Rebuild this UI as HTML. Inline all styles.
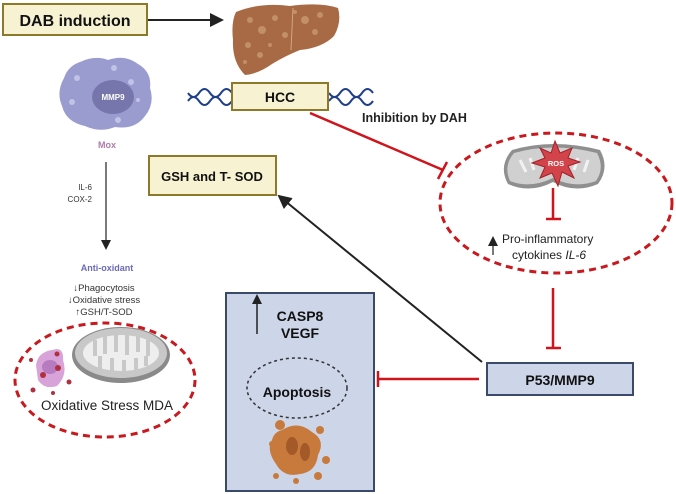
<!DOCTYPE html>
<html><head><meta charset="utf-8"><style>
html,body{margin:0;padding:0;background:#fff;width:676px;height:494px;overflow:hidden}
svg{display:block}
text{font-family:"Liberation Sans",sans-serif}
</style></head><body>
<svg width="676" height="494" viewBox="0 0 676 494" xmlns="http://www.w3.org/2000/svg">
<defs>
<marker id="ah" markerWidth="10" markerHeight="10" refX="8" refY="5" orient="auto" markerUnits="userSpaceOnUse"><path d="M0,0 L10,5 L0,10 z" fill="#222"/></marker>
<marker id="ah2" markerWidth="14" markerHeight="14" refX="12" refY="7" orient="auto" markerUnits="userSpaceOnUse"><path d="M0,0 L14,7 L0,14 z" fill="#222"/></marker>
</defs>

<rect x="3" y="4" width="144" height="31" fill="#f6f2d2" stroke="#8c7a2a" stroke-width="2"/>
<text x="75" y="26" font-size="16" font-weight="bold" text-anchor="middle" fill="#111">DAB induction</text>
<line x1="148" y1="20" x2="222" y2="20" stroke="#222" stroke-width="2" marker-end="url(#ah2)"/>

<!-- liver -->
<path d="M236,12 Q260,2 290,6 Q320,2 338,8 Q342,22 334,36 Q322,48 300,50 Q285,56 272,64 Q258,74 245,75 Q232,62 233,40 Q231,22 236,12z" fill="#a86a45"/>
<g fill="#c99a6e" opacity="0.8">
<circle cx="250" cy="20" r="3"/><circle cx="262" cy="30" r="4"/><circle cx="275" cy="18" r="3"/><circle cx="248" cy="45" r="3"/><circle cx="285" cy="35" r="3"/><circle cx="305" cy="20" r="4"/><circle cx="320" cy="15" r="3"/><circle cx="315" cy="32" r="3"/><circle cx="260" cy="55" r="3"/><circle cx="295" cy="12" r="2"/><circle cx="270" cy="45" r="2"/><circle cx="245" cy="62" r="2"/>
</g>
<line x1="293" y1="8" x2="291" y2="50" stroke="#d4a67a" stroke-width="1"/>

<g fill="none" stroke="#1f3f8a" stroke-width="2">
<path d="M188,93 q5.5,8 11,0 t11,0 t11,0 t11,0"/><path d="M188,101 q5.5,-8 11,0 t11,0 t11,0 t11,0"/>
<path d="M329,93 q5.5,8 11,0 t11,0 t11,0 t11,0"/><path d="M329,101 q5.5,-8 11,0 t11,0 t11,0 t11,0"/>
</g>
<rect x="232" y="83" width="96" height="27" fill="#f6f2d2" stroke="#8c7a2a" stroke-width="2"/>
<text x="280" y="102" font-size="14" font-weight="bold" text-anchor="middle" fill="#111">HCC</text>

<!-- Mox -->
<path d="M80,62 Q95,55 108,60 Q125,54 138,64 Q152,72 150,88 Q155,104 145,116 Q135,130 115,127 Q100,133 85,126 Q66,122 62,106 Q56,92 64,78 Q68,66 80,62z" fill="#9a9cd0"/>
<g fill="#c0c2e6"><circle cx="77" cy="78" r="3"/><circle cx="114" cy="68" r="3"/><circle cx="131" cy="82" r="3"/><circle cx="72" cy="102" r="3"/><circle cx="118" cy="120" r="3"/><circle cx="138" cy="100" r="2"/></g>
<ellipse cx="113" cy="97" rx="21" ry="17" fill="#7676ac"/>
<text x="113" y="100" font-size="8" font-weight="bold" text-anchor="middle" fill="#fff">MMP9</text>
<text x="107" y="148" font-size="9" font-weight="bold" text-anchor="middle" fill="#b07ca8">Mox</text>

<line x1="106" y1="162" x2="106" y2="248" stroke="#222" stroke-width="1.2" marker-end="url(#ah)"/>
<text x="92" y="190" font-size="8" text-anchor="end" fill="#333">IL-6</text>
<text x="92" y="202" font-size="8" text-anchor="end" fill="#333">COX-2</text>

<text x="107" y="271" font-size="9" font-weight="bold" text-anchor="middle" fill="#6a6ab8">Anti-oxidant</text>
<text x="104" y="291" font-size="9.5" text-anchor="middle" fill="#333">↓Phagocytosis</text>
<text x="104" y="303" font-size="9.5" text-anchor="middle" fill="#333">↓Oxidative stress</text>
<text x="104" y="315" font-size="9.5" text-anchor="middle" fill="#333">↑GSH/T-SOD</text>

<!-- left ellipse -->
<ellipse cx="105" cy="380" rx="90" ry="57" fill="none" stroke="#c8191e" stroke-width="3" stroke-dasharray="7,5"/>
<ellipse cx="121" cy="355" rx="49" ry="28" fill="#8a8a8a"/>
<ellipse cx="121" cy="353" rx="46" ry="25" fill="#c8c8c8"/>
<ellipse cx="121" cy="353" rx="38" ry="18" fill="#eee"/>
<g stroke="#c8c8c8" stroke-width="4">
<line x1="95" y1="340" x2="95" y2="356"/><line x1="105" y1="336" x2="105" y2="354"/><line x1="116" y1="335" x2="116" y2="352"/><line x1="127" y1="335" x2="127" y2="355"/><line x1="138" y1="336" x2="138" y2="352"/><line x1="148" y1="340" x2="148" y2="356"/><line x1="100" y1="369" x2="100" y2="356"/><line x1="112" y1="371" x2="112" y2="358"/><line x1="124" y1="371" x2="124" y2="360"/><line x1="136" y1="370" x2="136" y2="358"/><line x1="146" y1="366" x2="146" y2="356"/>
</g>
<path d="M36,365 Q38,352 52,350 Q64,346 63,360 Q68,375 57,386 Q44,390 38,380z" fill="#d7a3d8"/>
<ellipse cx="50" cy="367" rx="8" ry="7" fill="#b77bc0"/>
<g fill="#b03040"><circle cx="43" cy="375" r="3"/><circle cx="58" cy="368" r="3"/><circle cx="57" cy="354" r="2.5"/><circle cx="69" cy="382" r="2.5"/><circle cx="33" cy="390" r="2.5"/><circle cx="53" cy="393" r="2"/><circle cx="31" cy="360" r="2"/></g>
<text x="107" y="410" font-size="13.5" text-anchor="middle" fill="#222">Oxidative Stress MDA</text>

<rect x="149" y="156" width="127" height="39" fill="#f6f2d2" stroke="#8c7a2a" stroke-width="2"/>
<text x="212" y="181" font-size="13" font-weight="bold" text-anchor="middle" fill="#111">GSH and T- SOD</text>

<line x1="310" y1="113" x2="443" y2="170" stroke="#d0141c" stroke-width="2.5"/>
<line x1="438" y1="179" x2="447" y2="162" stroke="#d0141c" stroke-width="2.5"/>
<text x="362" y="122" font-size="12.5" font-weight="bold" fill="#222">Inhibition by DAH</text>

<!-- right ellipse -->
<ellipse cx="556" cy="203" rx="116" ry="70" fill="none" stroke="#c8191e" stroke-width="3" stroke-dasharray="7,5"/>
<path d="M512,150 Q553,138 600,150 Q610,168 598,184 Q575,194 553,182 Q530,194 508,184 Q498,166 512,150z" fill="#8f8f8f"/>
<path d="M514,153 Q553,142 597,153 Q605,168 596,181 Q575,189 553,178 Q530,189 510,181 Q503,166 514,153z" fill="#d0d0d0"/>
<g stroke="#f2f2f2" stroke-width="3"><line x1="520" y1="160" x2="526" y2="172"/><line x1="530" y1="158" x2="534" y2="170"/><line x1="578" y1="158" x2="574" y2="170"/><line x1="588" y1="160" x2="584" y2="172"/></g>
<polygon points="555,141 560,153 572,148 568,158 580,162 568,166 574,178 562,172 558,186 552,173 540,178 545,167 532,163 545,158 540,148 551,153" fill="#d3434a" stroke="#a0222a" stroke-width="1"/>
<text x="556" y="166" font-size="7.5" font-weight="bold" text-anchor="middle" fill="#fff">ROS</text>
<line x1="553" y1="188" x2="553" y2="219" stroke="#d0141c" stroke-width="2.5"/>
<line x1="546" y1="219" x2="561" y2="219" stroke="#d0141c" stroke-width="2.5"/>
<line x1="493" y1="255" x2="493" y2="238" stroke="#222" stroke-width="1.2" marker-end="url(#ah)"/>
<text x="502" y="243" font-size="12" fill="#222">Pro-inflammatory</text>
<text x="512" y="259" font-size="12" fill="#222">cytokines <tspan font-style="italic">IL-6</tspan></text>

<line x1="553" y1="288" x2="553" y2="348" stroke="#d0141c" stroke-width="2.5"/>
<line x1="546" y1="348" x2="561" y2="348" stroke="#d0141c" stroke-width="2.5"/>

<rect x="487" y="363" width="146" height="32" fill="#cdd5e8" stroke="#3b4a6b" stroke-width="2"/>
<text x="560" y="385" font-size="14" font-weight="bold" text-anchor="middle" fill="#111">P53/MMP9</text>
<line x1="479" y1="379" x2="378" y2="379" stroke="#d0141c" stroke-width="2.5"/>
<line x1="378" y1="371" x2="378" y2="387" stroke="#d0141c" stroke-width="2.5"/>

<line x1="482" y1="362" x2="279" y2="196" stroke="#222" stroke-width="2" marker-end="url(#ah2)"/>

<rect x="226" y="293" width="148" height="198" fill="#cdd5e8" stroke="#3b4a6b" stroke-width="2"/>
<line x1="257" y1="334" x2="257" y2="296" stroke="#222" stroke-width="1.5" marker-end="url(#ah)"/>
<text x="300" y="321" font-size="14" font-weight="bold" text-anchor="middle" fill="#111">CASP8</text>
<text x="300" y="338" font-size="14" font-weight="bold" text-anchor="middle" fill="#111">VEGF</text>
<ellipse cx="297" cy="388" rx="50" ry="30" fill="none" stroke="#333" stroke-width="1.5" stroke-dasharray="3,3"/>
<text x="297" y="397" font-size="14" font-weight="bold" text-anchor="middle" fill="#111">Apoptosis</text>
<path d="M282,430 Q298,420 312,432 Q326,440 318,455 Q316,472 300,474 Q284,478 276,464 Q266,450 272,440 Q274,432 282,430z" fill="#c77a3c"/>
<ellipse cx="292" cy="446" rx="6" ry="9" fill="#a45a28"/><ellipse cx="305" cy="452" rx="5" ry="9" fill="#a45a28"/>
<g fill="#c77a3c"><circle cx="280" cy="425" r="5"/><circle cx="320" cy="430" r="4"/><circle cx="272" cy="444" r="3"/><circle cx="326" cy="460" r="4"/><circle cx="276" cy="476" r="3"/><circle cx="318" cy="476" r="4"/><circle cx="296" cy="481" r="3"/></g>
</svg>
</body></html>
